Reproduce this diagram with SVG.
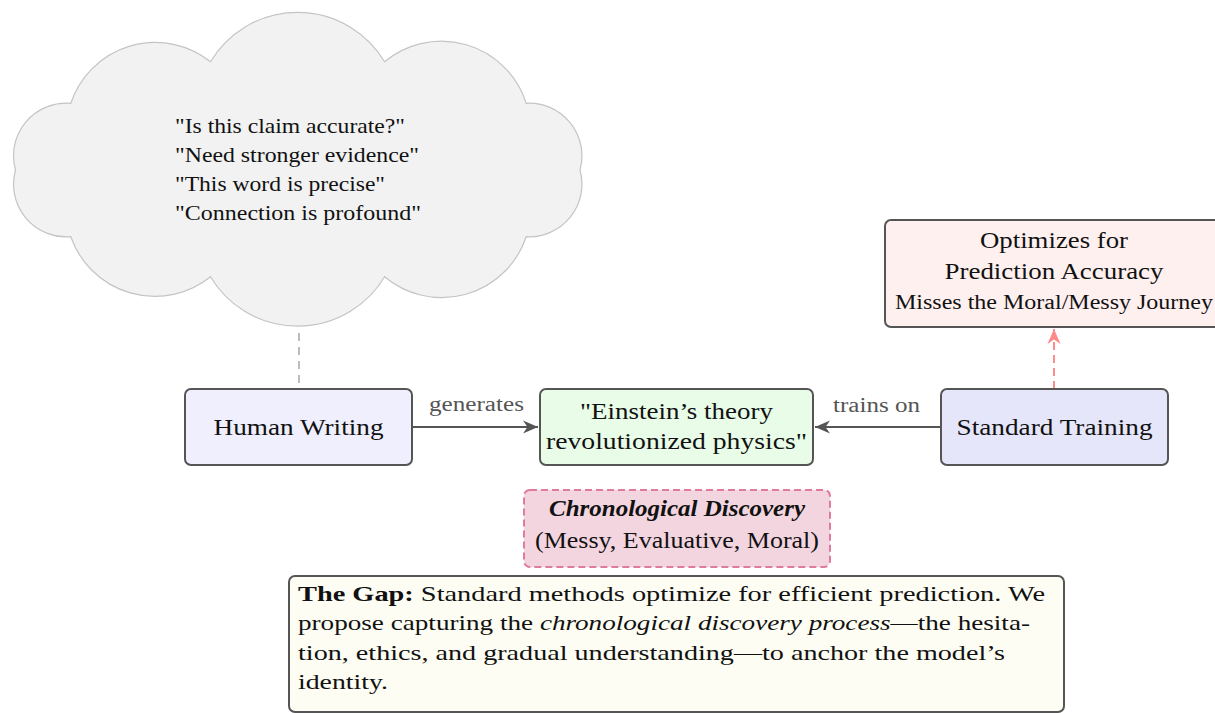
<svg xmlns="http://www.w3.org/2000/svg" width="1215" height="713" viewBox="0 0 1215 713">
  <style>
    text { font-family: "Liberation Serif", "Times New Roman", serif; fill: #111; }
    .node { stroke: #555; stroke-width: 2; }
    .lbl { font-size: 23px; text-anchor: middle; }
    .edge-lbl { font-size: 20px; text-anchor: middle; fill: #555; }
    .thought { font-size: 21px; }
    .gap { font-size: 22px; }
    .conn { stroke: #555; stroke-width: 2; fill: none; }
  </style>
  <defs>
    <marker id="head" markerUnits="userSpaceOnUse" markerWidth="20" markerHeight="16" viewBox="-16 -8 20 16" refX="0" refY="0" orient="auto">
      <path d="M0,0 L-15,-6.5 L-10.5,0 L-15,6.5 Z" fill="#555"/>
    </marker>
    <marker id="head-red" markerUnits="userSpaceOnUse" markerWidth="20" markerHeight="16" viewBox="-16 -8 20 16" refX="0" refY="0" orient="auto">
      <path d="M0,0 L-15,-6.5 L-10.5,0 L-15,6.5 Z" fill="#ff8a8a"/>
    </marker>
  </defs>

  <!-- thought cloud -->
  <g id="thoughts">
    <path d="M 70.8 103.3 A 88.9 88.9 0 0 1 210.5 61.7 A 101.4 101.4 0 0 1 384.6 61.7 A 88.9 88.9 0 0 1 526.2 103.3 A 52.7 52.7 0 0 1 580 170 A 52.7 52.7 0 0 1 526.2 236.7 A 88.9 88.9 0 0 1 384.6 276.7 A 101.4 101.4 0 0 1 210.5 276.7 A 88.9 88.9 0 0 1 70.8 236.7 A 52.7 52.7 0 0 1 15.5 170 A 52.7 52.7 0 0 1 70.8 103.3 Z" fill="#f2f2f2" stroke="#c4c4c4" stroke-width="1.2"/>
    <text class="thought" x="175" y="133" textLength="230" lengthAdjust="spacingAndGlyphs">"Is this claim accurate?"</text>
    <text class="thought" x="175" y="162" textLength="244" lengthAdjust="spacingAndGlyphs">"Need stronger evidence"</text>
    <text class="thought" x="175" y="191" textLength="210" lengthAdjust="spacingAndGlyphs">"This word is precise"</text>
    <text class="thought" x="175" y="220" textLength="246" lengthAdjust="spacingAndGlyphs">"Connection is profound"</text>
  </g>

  <!-- connectors -->
  <g id="connectors">
    <line x1="299" y1="333" x2="299" y2="389" stroke="#bdbdbd" stroke-width="2" stroke-dasharray="8 6"/>
    <line class="conn" x1="412" y1="427" x2="538" y2="427" marker-end="url(#head)"/>
    <text class="edge-lbl" x="476.5" y="411" textLength="95" lengthAdjust="spacingAndGlyphs">generates</text>
    <line class="conn" x1="941" y1="427" x2="815" y2="427" marker-end="url(#head)"/>
    <text class="edge-lbl" x="876.5" y="412" textLength="87" lengthAdjust="spacingAndGlyphs">trains on</text>
    <line x1="1054" y1="389" x2="1054" y2="329" stroke="#ff8a8a" stroke-width="2" stroke-dasharray="8 5" marker-end="url(#head-red)"/>
  </g>

  <g id="human-writing">
    <rect class="node" x="185" y="389" width="227" height="76" rx="6" fill="#efeffd"/>
    <text class="lbl" x="298.5" y="435" textLength="170" lengthAdjust="spacingAndGlyphs">Human Writing</text>
  </g>

  <g id="sample-text">
    <rect class="node" x="540" y="389" width="273" height="76" rx="6" fill="#e8fce8"/>
    <text class="lbl" x="676.5" y="419" textLength="193" lengthAdjust="spacingAndGlyphs">"Einstein’s theory</text>
    <text class="lbl" x="676.5" y="449" textLength="261" lengthAdjust="spacingAndGlyphs">revolutionized physics"</text>
  </g>

  <g id="standard-training">
    <rect class="node" x="941" y="389" width="227" height="76" rx="6" fill="#e6e6fa"/>
    <text class="lbl" x="1054.5" y="435" textLength="196" lengthAdjust="spacingAndGlyphs">Standard Training</text>
  </g>

  <g id="objective">
    <rect class="node" x="885" y="220" width="338" height="107" rx="6" fill="#fff0f0"/>
    <text class="lbl" x="1054" y="248" textLength="148" lengthAdjust="spacingAndGlyphs">Optimizes for</text>
    <text class="lbl" x="1054" y="279" textLength="219" lengthAdjust="spacingAndGlyphs">Prediction Accuracy</text>
    <text class="lbl" x="1054" y="309" style="font-size:20px" textLength="318" lengthAdjust="spacingAndGlyphs">Misses the Moral/Messy Journey</text>
  </g>

  <g id="chronological-discovery">
    <rect x="524" y="490" width="306" height="77" rx="6" fill="#f3d5e0" stroke="#e07a9e" stroke-width="2" stroke-dasharray="7 4"/>
    <text class="lbl" x="677" y="516" style="font-weight:bold;font-style:italic" textLength="256" lengthAdjust="spacingAndGlyphs">Chronological Discovery</text>
    <text class="lbl" x="677" y="548" textLength="284" lengthAdjust="spacingAndGlyphs">(Messy, Evaluative, Moral)</text>
  </g>

  <g id="the-gap">
    <rect class="node" x="289" y="576" width="775" height="136" rx="6" fill="#fdfdf3"/>
    <text class="gap" x="298" y="601" textLength="747" lengthAdjust="spacingAndGlyphs"><tspan font-weight="bold">The Gap:</tspan> Standard methods optimize for efficient prediction.  We</text>
    <text class="gap" x="298" y="630" textLength="732" lengthAdjust="spacingAndGlyphs">propose capturing the <tspan font-style="italic">chronological discovery process</tspan>—the hesita-</text>
    <text class="gap" x="298" y="660" textLength="707" lengthAdjust="spacingAndGlyphs">tion, ethics, and gradual understanding—to anchor the model’s</text>
    <text class="gap" x="298" y="689" textLength="90" lengthAdjust="spacingAndGlyphs">identity.</text>
  </g>
</svg>
